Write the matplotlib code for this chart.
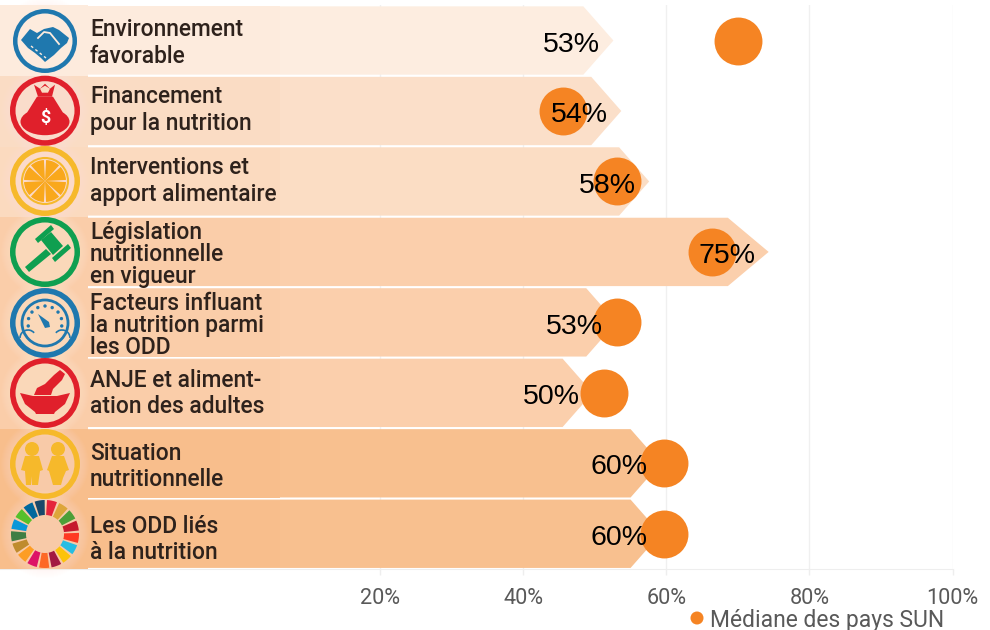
import numpy as np
import matplotlib
matplotlib.use('Agg')
import matplotlib.pyplot as plt
from matplotlib.patches import Circle, Polygon, Wedge, Ellipse, Rectangle, Arc

W, H = 990, 630
plt.rcParams['font.family'] = ['Roboto', 'DejaVu Sans']

# data
categories = [
    'Environnement\nfavorable',
    'Financement\npour la nutrition',
    'Interventions et\napport alimentaire',
    'Législation\nnutritionnelle\nen vigueur',
    'Facteurs influant\nla nutrition parmi\nles ODD',
    'ANJE et aliment-\nation des adultes',
    'Situation\nnutritionnelle',
    'Les ODD liés\nà la nutrition',
]
labels = ['53%', '54%', '58%', '75%', '53%', '50%', '60%', '60%']
bar_tips = [52.6, 53.7, 57.6, 74.3, 53.0, 49.7, 59.2, 59.2]
median = [70.0, 45.6, 53.1, 66.4, 53.1, 51.3, 59.7, 59.7]
ticks = [20, 40, 60, 80, 100]
tick_labels = ['20%', '40%', '60%', '80%', '100%']

bar_colors = ['#FDEDE0', '#FBDFC9', '#FBDDC4', '#FBCFAC', '#FBCFAC', '#FBCFAC', '#F8C08F', '#F8C08F']
strip_colors = ['#FDEBDD', '#FADCC4', '#FBDABF', '#FACDA9', '#FACDA9', '#FACDA9', '#F8BE8C', '#F8BE8C']
orange = '#F58423'
text_dark = '#2E221C'

fig = plt.figure(figsize=(W / 100, H / 100), dpi=100)

# main axes: 0% sits at x=237px, 100% at 952px
x_per_px = 100 / 715
ax = fig.add_axes([0, (H - 569) / H, 952.5 / W, 563.7 / H])
ax.set_xlim(-237 * x_per_px, 100)
ax.set_ylim(7.5, -0.5)
ax.set_yticks([])
ax.set_xticks(ticks)
ax.set_xticklabels(tick_labels, fontsize=15.6, color='#595959')
ax.tick_params(axis='x', length=4, width=1, color='#EEEEEE', pad=10)
ax.xaxis.grid(True, color='#F0F0F0', lw=1)
ax.set_axisbelow(True)
for s in ['top', 'left', 'right']:
    ax.spines[s].set_visible(False)
ax.spines['bottom'].set_color('#EEEEEE')

left = ax.get_xlim()[0]
for i, tip in enumerate(bar_tips):
    head = 5.7 if i == 3 else 4.2
    top, bot = i - 0.485, i + 0.485
    ax.add_patch(Polygon([(left, top), (tip - head, top), (tip, i), (tip - head, bot), (left, bot)],
                         closed=True, fc=bar_colors[i], ec='none', zorder=2))

ax.scatter(median, range(len(median)), s=1190, color=orange, zorder=3, linewidths=0)

for i, tip in enumerate(bar_tips):
    ax.annotate(labels[i], (tip, i), xytext=(-30, -3), textcoords='offset points', ha='center', va='center',
                fontsize=20.5, color='black', family=['Liberation Sans'], zorder=4)

# overlay in pixel coordinates for the row labels and icons
ov = fig.add_axes([0, 0, 1, 1], zorder=5)
ov.set_xlim(0, W)
ov.set_ylim(H, 0)
ov.axis('off')
ov.patch.set_alpha(0)

centers = [41, 110.7, 181, 252, 323, 393, 464, 534]
label_mid = [43, 110, 181, 254.5, 325.5, 393.5, 466.5, 539.5]
edges = [5, 75.5, 146.5, 216.5, 288, 358.5, 429, 499.5, 569]

# left strip: rows touch up to x=88, then a slightly different tint up to x=280
for i in range(8):
    ov.add_patch(Rectangle((0, edges[i]), 88, edges[i + 1] - edges[i], fc=strip_colors[i], ec='none'))
    ov.add_patch(Rectangle((88, edges[i] + 1), 192, edges[i + 1] - edges[i] - 3, fc=strip_colors[i], ec='none'))
for c in centers:
    for r in np.arange(44, 32, -1):
        ov.add_patch(Circle((45, c), r, fc='#FFF1E4', ec='none', alpha=0.04))

line_gap = {2: 26.5, 3: 22}
for i, cat in enumerate(categories):
    lines = cat.split('\n')
    gap = line_gap[len(lines)]
    y0 = label_mid[i] - gap * (len(lines) - 1) / 2
    for j, line in enumerate(lines):
        ov.text(90, y0 + j * gap, line, fontsize=16.4, fontweight='medium', color=text_dark, ha='left', va='center')


def ring(cx, cy, color, r=35, w=5.5):
    ov.add_patch(Circle((cx, cy), r - w / 2, fc='none', ec=color, lw=w * 0.72))


def shape(cx, cy, pts, color, **kw):
    ov.add_patch(Polygon([(cx + a, cy + b) for a, b in pts], closed=True, fc=color, ec='none', **kw))


# handshake
cx, cy = 45, 41
ring(cx, cy, '#1F78AE', r=32, w=4.5)
shape(cx, cy, [(-24, -1), (-15, -12), (-8, -8), (-1, -12), (8, -14), (14, -11), (24, -3), (22, 2), (16, 7), (9, 14),
               (0, 21), (-4, 17), (-10, 12), (-17, 7)], '#1F78AE')
ov.plot([cx - 7, cx - 1, cx + 5, cx + 14], [cy - 3, cy - 9, cy - 8, cy + 3], color='#FDEBDD', lw=1.3)
ov.plot([cx - 14, cx - 9, cx - 4, cx + 1], [cy + 5, cy + 9, cy + 13, cy + 17], color='#FDEBDD', lw=1, ls=(0, (2, 2)))

# money bag
cx, cy = 45, 110.7
ring(cx, cy, '#E0202B')
ov.add_patch(Ellipse((cx, cy + 11), 49, 27, fc='#E0202B', ec='none'))
shape(cx, cy, [(-8, -14), (8, -14), (18, 2), (-18, 2)], '#E0202B')
shape(cx, cy, [(-11, -26), (-5, -22), (0, -27), (5, -22), (10, -26), (7, -14), (-7, -14)], '#E0202B')
shape(cx, cy, [(-5, -22), (0, -25), (5, -22), (3, -18), (-3, -18)], '#FADCC4')
ov.text(cx, cy + 7, '$', color='white', fontsize=13, fontweight='bold', ha='center', va='center')

# orange slice
cx, cy = 45, 181
ring(cx, cy, '#F6B92B')
ov.add_patch(Circle((cx, cy), 23, fc='none', ec='#F6B92B', lw=1.5))
for a in np.arange(0, 360, 45):
    ov.add_patch(Wedge((cx, cy), 21, a + 3, a + 42, fc='#F9A81C', ec='none'))

# gavel
cx, cy = 45, 252
ring(cx, cy, '#0F9F50')
shape(cx, cy, [(-20, 15), (-16, 20), (6, 2), (1, -3)], '#0F9F50')
shape(cx, cy, [(-4, -12), (6, -20), (18, -6), (8, 3)], '#0F9F50')
shape(cx, cy, [(-10, -13), (6, -27), (9, -23), (-7, -9)], '#0F9F50')
shape(cx, cy, [(7, 6), (23, -8), (26, -4), (10, 10)], '#0F9F50')

# gauge
cx, cy = 45, 323
ring(cx, cy, '#1F78AE')
ov.add_patch(Circle((cx, cy), 23, fc='none', ec='#1F78AE', lw=2))
for a in np.linspace(170, 370, 9):
    ov.add_patch(Circle((cx + 17 * np.cos(np.radians(a)), cy + 17 * np.sin(np.radians(a))), 1.7,
                        fc='#1F78AE', ec='none'))
shape(cx, cy, [(-7, -9), (4, -1), (5, 4), (0, 5)], '#1F78AE')
for dx, (a1, a2) in zip((-17, 17), ((180, 320), (220, 360))):
    ov.add_patch(Arc((cx + dx, cy + 15), 16, 16, theta1=a1, theta2=a2, ec='#1F78AE', lw=1.2))

# bowl
cx, cy = 45, 393
ring(cx, cy, '#E0202B')
shape(cx, cy, [(-25, 0), (-12, 3), (12, 3), (25, 0), (20, 11), (10, 19), (9, 21), (-9, 21), (-10, 19), (-20, 11)],
      '#E0202B')
shape(cx, cy, [(-11, 2), (-8, -5), (0, -9), (9, -18), (15, -23), (20, -19), (17, -13), (8, -4), (6, 2)], '#E0202B')

# children
cx, cy = 45, 464
ring(cx, cy, '#F6B92B')
shape(cx, cy, [(-24, 6), (-20, -8), (-6, -8), (-2, 6), (-5, 7), (-7, 21), (-13, 21), (-13, 12), (-14, 21), (-19, 21),
               (-20, 7)], '#F6B92B')
shape(cx, cy, [(2, 6), (7, -8), (19, -8), (24, 6), (21, 7), (18, 14), (16, 21), (8, 21), (6, 14), (4, 7)], '#F6B92B')
for dx in (-13, 13):
    ov.add_patch(Circle((cx + dx, cy - 15), 7, fc='#F6B92B', ec='none'))

# SDG wheel, one wedge per goal
sdg_colors = ['#E5243B', '#DDA63A', '#4C9F38', '#C5192D', '#FF3A21', '#26BDE2', '#FCC30B', '#A21942', '#FD6925',
              '#DD1367', '#FD9D24', '#BF8B2E', '#3F7E44', '#0A97D9', '#56C02B', '#00689D', '#19486A']
cx, cy = 45, 534
step = 360 / 17
for k, c in enumerate(sdg_colors):
    a = -88.6 + k * step
    ov.add_patch(Wedge((cx, cy), 34, a + 2, a + step - 2, width=15, fc=c, ec='none'))

# legend, clipped at the bottom as in the original
ov.add_patch(Circle((697, 618), 6.5, fc=orange, ec='none'))
ov.text(710, 621, 'Médiane des pays SUN', fontsize=16.5, color='#595959', ha='left', va='center', clip_on=True)

fig.savefig('out.png', dpi=100)
